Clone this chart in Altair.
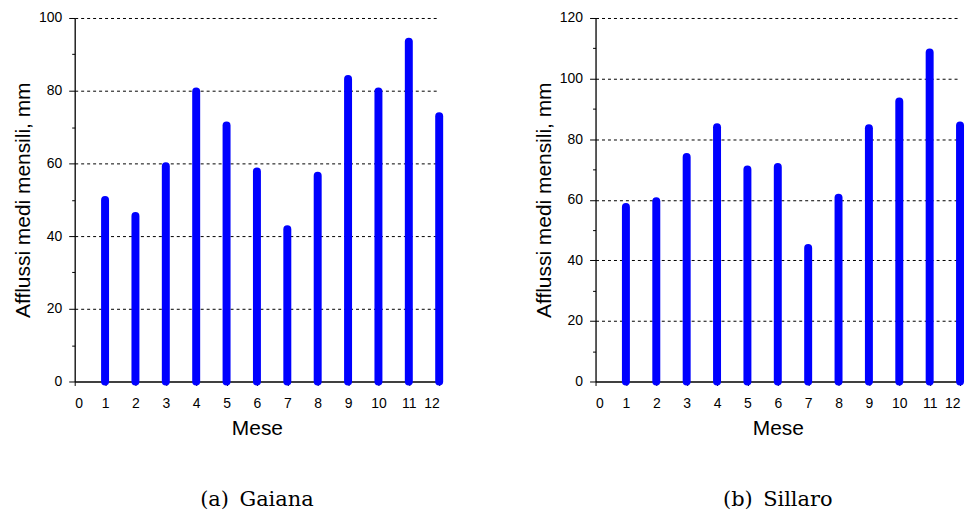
import altair as alt
import pandas as pd

months = list(range(1, 13))
gaiana = [49.9, 45.5, 59.2, 79.8, 70.4, 57.8, 41.9, 56.6, 83.2, 79.8, 93.5, 73.0]
sillaro = [57.6, 59.5, 74.1, 83.9, 70.0, 70.8, 44.1, 60.7, 83.6, 92.4, 108.6, 84.5]
x_ticks = list(range(0, 13))
captions = ["(a)\u2002Gaiana", "(b)\u2002Sillaro"]
y_max = [100, 120]

FONT = "Liberation Sans"


def panel(values, ymax, caption):
    df = pd.DataFrame({"Mese": months, "val": values, "zero": [0] * len(values)})
    minor = "datum.value % 20 != 0"
    yaxis = alt.Axis(
        values=list(range(0, ymax + 1, 10)),
        labelExpr="datum.value % 20 == 0 ? datum.label : ''",
        tickSize={"condition": {"test": minor, "value": 3}, "value": 6},
        grid=True,
        gridDash=[3, 3],
        gridColor="black",
        gridWidth=1,
        gridOpacity={"condition": {"test": minor + " || datum.value == 0", "value": 0}, "value": 1},
        labelPadding=7,
        titlePadding=5,
        title="Afflussi medi mensili, mm",
    )
    xaxis = alt.Axis(
        values=x_ticks,
        labelAngle=0,
        grid=False,
        tickSize=4,
        labelPadding=11,
        titlePadding=7,
        title="Mese",
    )
    return (
        alt.Chart(df)
        .mark_rule(strokeWidth=8, strokeCap="round", color="#0000ff")
        .encode(
            x=alt.X("Mese:Q", scale=alt.Scale(domain=[0, 12], nice=False), axis=xaxis),
            y=alt.Y("val:Q", scale=alt.Scale(domain=[0, ymax], nice=False), axis=yaxis),
            y2="zero:Q",
        )
        .properties(
            width=366,
            height=365,
            title=alt.TitleParams(
                caption,
                orient="bottom",
                anchor="middle",
                frame="group",
                font="DejaVu Serif",
                fontSize=21,
                fontWeight="normal",
                color="black",
                offset=51,
            ),
        )
    )


left = panel(gaiana, y_max[0], captions[0])
right = panel(sillaro, y_max[1], captions[1])

chart = (
    alt.hconcat(left, right, spacing=90)
    .properties(padding={"left": 12, "top": 10, "right": 5, "bottom": 5})
    .configure_view(stroke=None)
    .configure_axis(
        domainColor="black",
        domainWidth=1.3,
        tickColor="black",
        labelColor="black",
        titleColor="black",
        labelFont=FONT,
        titleFont=FONT,
        labelFontSize=14,
        titleFontSize=21,
        titleFontWeight="normal",
    )
)

chart.save("out.html", embed_options={"renderer": "svg", "actions": False})
